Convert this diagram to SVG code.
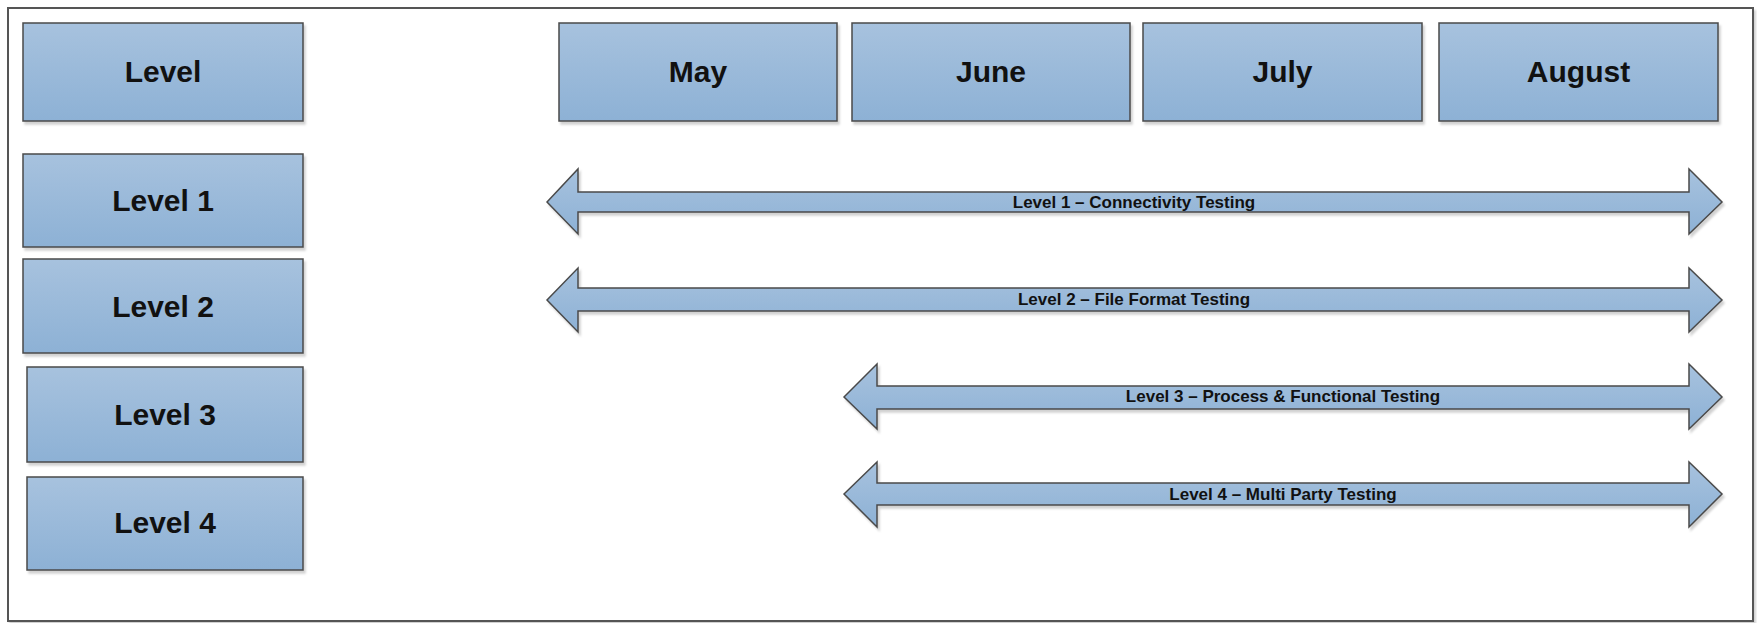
<svg xmlns="http://www.w3.org/2000/svg" width="1757" height="623" viewBox="0 0 1757 623">
<style>
.box{fill:url(#g);stroke:#4a4a4a;stroke-width:1.5;filter:url(#sh)}
.arr{fill:url(#g);stroke:#4a4a4a;stroke-width:1.5;filter:url(#sh)}
.lbl{font-family:"Liberation Sans",Arial,sans-serif;font-weight:bold;font-size:30px;fill:#111;text-anchor:middle}
.al{font-family:"Liberation Sans",Arial,sans-serif;font-weight:bold;font-size:17px;fill:#111;text-anchor:middle}
</style>
<defs>
<linearGradient id="g" x1="0" y1="0" x2="0" y2="1">
<stop offset="0" stop-color="#a7c2de"/>
<stop offset="1" stop-color="#8db1d5"/>
</linearGradient>
<filter id="sh" x="-5%" y="-20%" width="110%" height="140%">
<feDropShadow dx="2" dy="3" stdDeviation="1.2" flood-color="#000" flood-opacity="0.18"/>
</filter>
</defs>
<rect width="1757" height="623" fill="#fff"/>
<rect x="8" y="8" width="1745" height="613" fill="#fff" stroke="#555" stroke-width="2" filter="url(#sh)"/>
<g id="level"><rect class="box" x="23" y="23" width="280" height="98"/><text class="lbl" x="163" y="82">Level</text></g>
<g id="level1"><rect class="box" x="23" y="154" width="280" height="93"/><text class="lbl" x="163" y="211">Level 1</text></g>
<g id="level2"><rect class="box" x="23" y="259" width="280" height="94"/><text class="lbl" x="163" y="317">Level 2</text></g>
<g id="level3"><rect class="box" x="27" y="367" width="276" height="95"/><text class="lbl" x="165" y="425">Level 3</text></g>
<g id="level4"><rect class="box" x="27" y="477" width="276" height="93"/><text class="lbl" x="165" y="533">Level 4</text></g>
<g id="may"><rect class="box" x="559" y="23" width="278" height="98"/><text class="lbl" x="698" y="82">May</text></g>
<g id="june"><rect class="box" x="852" y="23" width="278" height="98"/><text class="lbl" x="991" y="82">June</text></g>
<g id="july"><rect class="box" x="1143" y="23" width="279" height="98"/><text class="lbl" x="1282.5" y="82">July</text></g>
<g id="august"><rect class="box" x="1439" y="23" width="279" height="98"/><text class="lbl" x="1578.5" y="82">August</text></g>
<g id="connectors">
<g id="arrow1"><path class="arr" d="M547,202 L578,169 L578,192 L1689,192 L1689,169 L1722,202 L1689,234 L1689,212 L578,212 L578,234 Z"/><text class="al" x="1134" y="208">Level 1 – Connectivity Testing</text></g>
<g id="arrow2"><path class="arr" d="M547,300 L578,268 L578,288 L1689,288 L1689,268 L1722,300 L1689,332 L1689,311 L578,311 L578,332 Z"/><text class="al" x="1134" y="305">Level 2 – File Format Testing</text></g>
<g id="arrow3"><path class="arr" d="M844,397 L877,364 L877,386 L1689,386 L1689,364 L1722,397 L1689,429 L1689,409 L877,409 L877,429 Z"/><text class="al" x="1283" y="402">Level 3 – Process &amp; Functional Testing</text></g>
<g id="arrow4"><path class="arr" d="M844,494 L877,462 L877,483 L1689,483 L1689,462 L1722,494 L1689,527 L1689,505 L877,505 L877,527 Z"/><text class="al" x="1283" y="500">Level 4 – Multi Party Testing</text></g>
</g>
</svg>
